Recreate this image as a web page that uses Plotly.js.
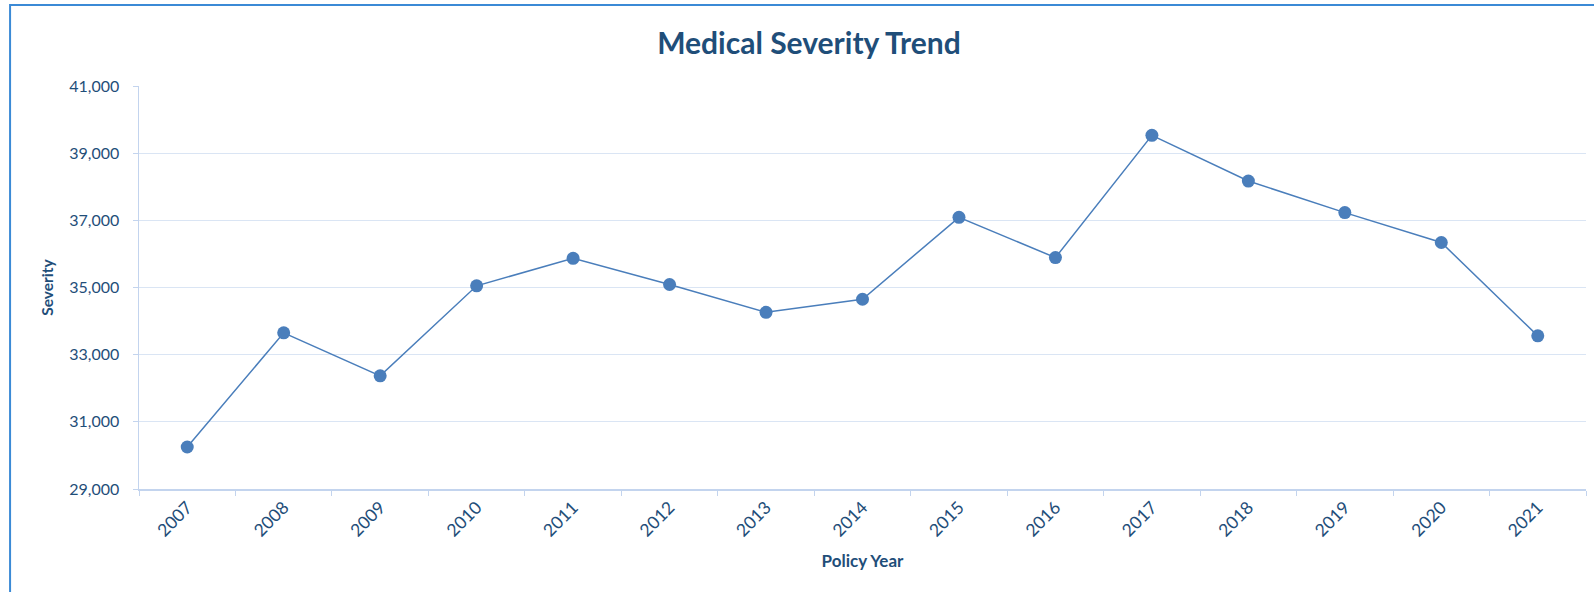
<!DOCTYPE html>
<html>
<head>
<meta charset="utf-8">
<script src="https://cdn.plot.ly/plotly-3.0.1.min.js"></script>
<style>
  html, body { margin: 0; padding: 0; background: #ffffff; }
  #chart { width: 1594px; height: 592px; }
</style>
</head>
<body>
<div id="chart"></div>
<script>
const years = ["2007","2008","2009","2010","2011","2012","2013","2014","2015","2016","2017","2018","2019","2020","2021"];
const severity = [30250, 33650, 32370, 35050, 35870, 35090, 34260, 34650, 37090, 35890, 39530, 38170, 37230, 36340, 33560];
const yTicks = [29000, 31000, 33000, 35000, 37000, 39000, 41000];

const textColor = '#1f4e79';
const seriesColor = '#4a7ebb';
const gridColor = '#dae5f4';
const axisColor = '#c3d4ee';
const fontFamily = 'Lato, "Open Sans", sans-serif';

const trace = {
  type: 'scatter',
  mode: 'lines+markers',
  x: years,
  y: severity,
  line: { color: seriesColor, width: 1.5 },
  marker: { color: seriesColor, size: 13, symbol: 'circle' },
  hoverinfo: 'x+y'
};

const layout = {
  width: 1594,
  height: 592,
  margin: { l: 139, r: 8, t: 86, b: 103 },
  paper_bgcolor: '#ffffff',
  plot_bgcolor: '#ffffff',
  showlegend: false,
  font: { family: fontFamily, color: textColor, size: 16 },
  title: {
    text: '<b>Medical Severity Trend</b>',
    font: { family: fontFamily, size: 30, color: textColor },
    x: 0.5075, xref: 'container', xanchor: 'center',
    y: 0.927, yref: 'container', yanchor: 'middle'
  },
  xaxis: {
    type: 'category',
    tickmode: 'array',
    tickvals: years,
    ticktext: years,
    tickangle: -45,
    tickson: 'boundaries',
    ticks: 'outside',
    ticklen: 5,
    tickwidth: 1,
    tickcolor: axisColor,
    showline: true,
    linecolor: axisColor,
    linewidth: 1.5,
    showgrid: false,
    zeroline: false,
    tickfont: { family: fontFamily, size: 17.5, color: textColor },
    title: {
      text: '<b>Policy Year</b>',
      font: { family: fontFamily, size: 17, color: textColor },
      standoff: 15
    },
    automargin: false,
    range: [-0.5, years.length - 0.5]
  },
  yaxis: {
    range: [29000, 41000],
    tickmode: 'array',
    tickvals: yTicks,
    ticktext: yTicks.map(v => v.toLocaleString('en-US')),
    ticks: 'outside',
    ticklen: 5,
    tickwidth: 1,
    tickcolor: axisColor,
    ticklabelstandoff: 10,
    showline: true,
    linecolor: axisColor,
    linewidth: 1.5,
    showgrid: true,
    gridcolor: gridColor,
    gridwidth: 1,
    zeroline: false,
    tickfont: { family: fontFamily, size: 16, color: textColor },
    title: {
      text: '<b>Severity</b>',
      font: { family: fontFamily, size: 15.5, color: textColor },
      standoff: 12
    },
    automargin: false
  },
  shapes: [
    {
      type: 'path',
      xref: 'paper', yref: 'paper',
      path: 'M -0.0891 -0.5 L -0.0891 1.2011 L 1.5 1.2011',
      line: { color: '#3b8ad6', width: 2 },
      layer: 'above'
    }
  ]
};

Plotly.newPlot('chart', [trace], layout, { displayModeBar: false, staticPlot: true });
</script>
</body>
</html>
